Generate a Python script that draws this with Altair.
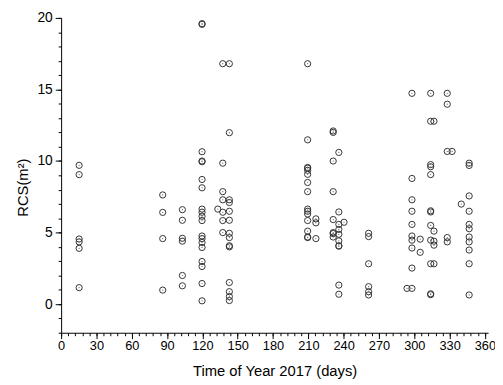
import altair as alt
import pandas as pd

# column positions (day of year 2017) and RCS values
day_values = [15.3, 86.3, 103, 119.7, 133.1, 137.3, 142.9, 209.4, 216.4, 231.1,
              235.9, 240.3, 261.2, 293.8, 298, 305, 313.9, 316.7, 328, 332.1,
              339.9, 346.6]

d015 = [9.7, 9.05, 4.55, 4.35, 3.9, 1.15]
d086 = [7.63, 6.41, 4.58, 0.98]
d103 = [6.6, 5.86, 4.6, 4.4, 2.0, 1.28]
d120 = [19.6, 19.55, 10.65, 10.0, 9.95, 8.71, 8.13, 6.64, 6.42, 6.14, 5.84,
        4.76, 4.58, 4.31, 3.96, 2.98, 2.63, 1.44, 0.23]
d133 = [6.64]
d137 = [16.8, 9.85, 7.86, 7.29, 6.42, 5.84, 5.0]
d143 = [16.8, 11.98, 7.29, 7.1, 6.49, 5.86, 4.95, 4.65, 4.08, 4.0, 1.51,
        0.87, 0.53, 0.25]
d209 = [16.8, 11.48, 9.55, 9.5, 9.35, 9.07, 8.5, 7.86, 6.64, 6.49, 6.3,
        5.84, 5.1, 4.69, 4.65]
d216 = [5.96, 5.68, 4.58]
d231 = [12.1, 12.0, 10.0, 7.86, 5.91, 5.0, 4.93, 4.69]
d236 = [10.6, 6.44, 5.57, 5.22, 4.88, 4.42, 4.08, 4.05, 1.33, 0.69]
d240 = [5.72]
d261 = [4.95, 4.72, 2.82, 1.22, 0.87, 0.64]
d294 = [1.1]
d298 = [14.73, 8.78, 7.29, 6.49, 5.57, 4.76, 4.47, 3.92, 2.52, 1.1]
d305 = [4.54, 3.62]
d314 = [14.73, 12.78, 9.75, 9.6, 9.05, 6.52, 6.44, 5.5, 4.47, 2.82, 0.72, 0.66]
d317 = [12.78, 5.1, 4.4, 4.12, 2.82]
d328 = [14.73, 13.97, 10.67, 4.65, 4.35]
d332 = [10.67]
d340 = [6.99]
d347 = [9.85, 9.69, 7.56, 6.49, 5.57, 5.27, 4.69, 4.35, 3.78, 2.82, 0.64]

columns = [d015, d086, d103, d120, d133, d137, d143, d209, d216, d231, d236,
           d240, d261, d294, d298, d305, d314, d317, d328, d332, d340, d347]

x_major = list(range(0, 361, 30))
x_minor = list(range(0, 361, 6))
y_major = [0, 5, 10, 15, 20]
y_minor = list(range(-2, 21, 1))

rows = []
for d, vals in zip(day_values, columns):
    for v in vals:
        rows.append({"day": d, "rcs": v})
df = pd.DataFrame(rows)

FONT = "Liberation Sans"
xscale = alt.Scale(domain=[0, 362.7], nice=False, zero=False)
yscale = alt.Scale(domain=[-2, 20], nice=False, zero=False)

circles = alt.Chart(df).mark_point(
    shape="circle", filled=False, size=40, stroke="#333333",
    strokeWidth=1, opacity=1
).encode(
    x=alt.X("day:Q", scale=xscale, axis=alt.Axis(
        values=x_major, orient="bottom", tickSize=6, labelPadding=1,
        labelFontSize=13, labelFont=FONT, labelColor="black",
        domainColor="black", tickColor="black", grid=False,
        title="Time of Year 2017 (days)", titleFont=FONT,
        titleFontSize=15, titleFontWeight="normal", titleColor="black",
        titlePadding=11, labelFlush=False)),
    y=alt.Y("rcs:Q", scale=yscale, axis=alt.Axis(
        values=y_major, orient="left", tickSize=6, labelPadding=3,
        labelFontSize=14, labelFont=FONT, labelColor="black",
        domainColor="black", tickColor="black", grid=False,
        title="RCS(m²)", titleFont=FONT, titleFontSize=15,
        titleFontWeight="normal", titleColor="black", titlePadding=7,
        titleY=172, labelFlush=False)),
)

dots = alt.Chart(df).mark_point(
    shape="circle", filled=True, size=1.5, color="#666666", opacity=1
).encode(
    x=alt.X("day:Q", scale=xscale, axis=alt.Axis(
        values=x_minor, orient="bottom", tickSize=3, labels=False,
        domain=False, grid=False, title=None, tickColor="black")),
    y=alt.Y("rcs:Q", scale=yscale, axis=alt.Axis(
        values=y_minor, orient="left", tickSize=3, labels=False,
        domain=False, grid=False, title=None, tickColor="black")),
)

chart = alt.layer(circles, dots).resolve_axis(
    x="independent", y="independent"
).properties(
    width=434, height=320,
    padding={"left": 54, "top": 7, "right": 7, "bottom": 48},
    autosize=alt.AutoSizeParams(type="none"),
    background="white",
).configure_view(stroke=None)

chart.save("out.html", embed_options={"renderer": "svg", "actions": False})
